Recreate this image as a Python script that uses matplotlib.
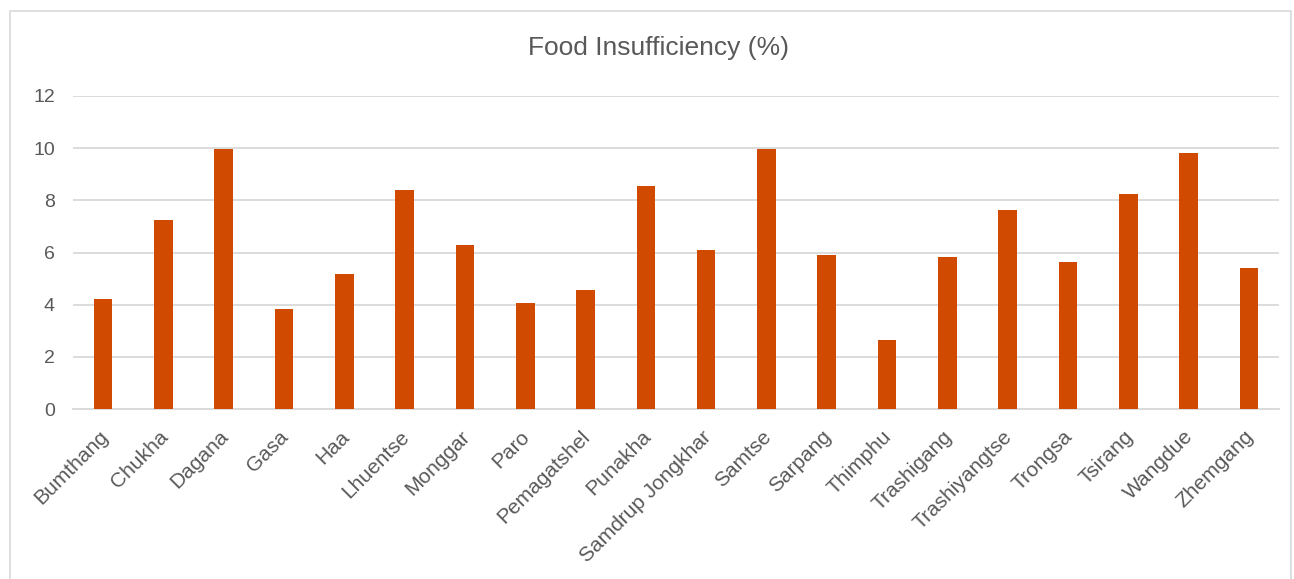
import matplotlib
matplotlib.use("Agg")
import matplotlib.pyplot as plt
from matplotlib.patches import Rectangle
from matplotlib.transforms import ScaledTranslation

districts = ["Bumthang", "Chukha", "Dagana", "Gasa", "Haa", "Lhuentse", "Monggar", "Paro",
             "Pemagatshel", "Punakha", "Samdrup Jongkhar", "Samtse", "Sarpang", "Thimphu",
             "Trashigang", "Trashiyangtse", "Trongsa", "Tsirang", "Wangdue", "Zhemgang"]
food_insufficiency = [4.2, 7.23, 9.98, 3.84, 5.16, 8.4, 6.27, 4.06, 4.56, 8.56,
                      6.08, 9.97, 5.92, 2.65, 5.83, 7.62, 5.65, 8.24, 9.82, 5.4]
yticks = [0, 2, 4, 6, 8, 10, 12]

plt.rcParams['font.family'] = ['Liberation Sans', 'DejaVu Sans']
W, H = 1294, 579
fig = plt.figure(figsize=(W / 100, H / 100), dpi=100)
fig.patch.set_facecolor('white')

# outer chart border
fig.patches.append(Rectangle((10 / W, -0.05), (1291 - 10) / W, 1 - 11 / H + 0.05,
                             transform=fig.transFigure, fill=False,
                             edgecolor='#D9D9D9', linewidth=1.2))

ax = fig.add_axes([73 / W, 1 - 409 / H, (1279 - 73) / W, (409 - 96) / H])
x = list(range(len(districts)))
ax.bar(x, food_insufficiency, width=0.31, color='#D04A02', zorder=3)
ax.set_xlim(-0.5, len(districts) - 0.5)
ax.set_ylim(0, 12)
ax.set_yticks(yticks)
ax.set_yticklabels([str(v) for v in yticks], fontsize=14, color='#595959')
ax.yaxis.grid(True, color='#D9D9D9', linewidth=1.3, zorder=0)
ax.set_axisbelow(True)
for s in ['top', 'right', 'left']:
    ax.spines[s].set_visible(False)
ax.spines['bottom'].set_color('#D9D9D9')
ax.spines['bottom'].set_linewidth(1.3)
ax.tick_params(axis='y', length=0, pad=13)
ax.tick_params(axis='x', length=0, pad=13)
ax.set_xticks(x)
ax.set_xticklabels(districts, rotation=45, ha='right', rotation_mode='anchor',
                   fontsize=15, color='#595959')
off = ScaledTranslation(-5 / 100, 0, fig.dpi_scale_trans)
for lbl in ax.get_xticklabels():
    lbl.set_transform(lbl.get_transform() + off)

fig.text(658 / W, 1 - 48 / H, "Food Insufficiency (%)", ha='center', va='center',
         fontsize=19, color='#595959')

fig.savefig('out.png', dpi=100, facecolor='white')
